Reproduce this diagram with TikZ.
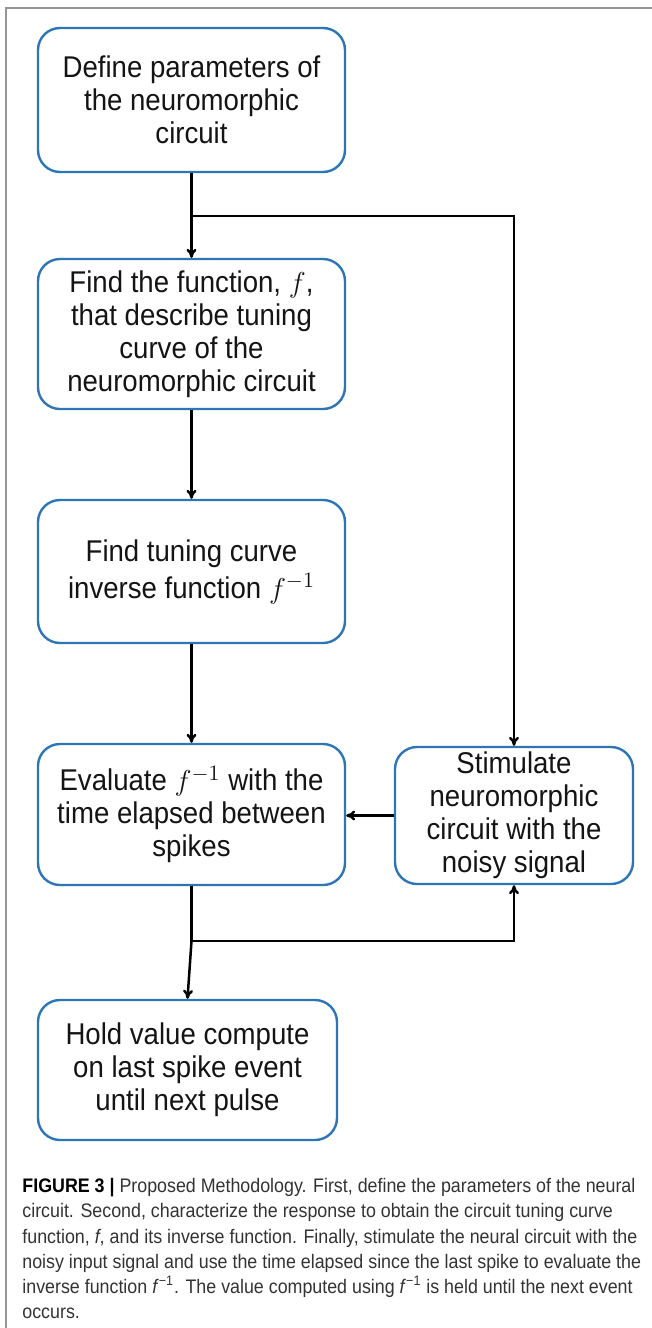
\documentclass[tikz,border=0pt]{standalone}
\usepackage{fontspec}
\setmainfont{Liberation Sans}
\newfontfamily\boxfont[FakeStretch=0.92]{Liberation Sans}
\newfontfamily\capfont[FakeStretch=0.91]{Liberation Sans}
\usetikzlibrary{arrows.meta}
\definecolor{boxblue}{RGB}{46,117,182}
\definecolor{framegray}{RGB}{150,150,150}
\begin{document}
\begin{tikzpicture}[x=0.5pt,y=-0.5pt,
  stepbox/.style={draw=boxblue, line width=1.2pt, rounded corners=11pt, align=center,
    inner sep=0pt, font=\boxfont\fontsize{15}{16.5}\selectfont, text=black!92},
  conn/.style={line width=1.25pt, draw=black},
  arr/.style={conn, -{To[length=4.5pt,width=5pt]}},
  captext/.style={anchor=base west, inner sep=0pt, font=\capfont\fontsize{9.8}{12.6}\selectfont, text=black!80}]
\useasboundingbox (0,0) rectangle (652,1328);
\draw[framegray, line width=0.75pt] (6,1328) -- (6,8) -- (652,8);

\node[stepbox, minimum width=153.5pt, minimum height=72pt] (b1) at (191.5,100)
  {Define parameters of\\the neuromorphic\\circuit};
\node[stepbox, minimum width=153.5pt, minimum height=75pt] (b2) at (191.5,334)
  {Find the function, $f$,\\that describe tuning\\curve of the\\neuromorphic circuit};
\node[stepbox, minimum width=153.5pt, minimum height=71.5pt] (b3) at (191.5,571.5)
  {Find tuning curve\\[2pt]inverse function $f^{-1}$};
\node[stepbox, minimum width=153.5pt, minimum height=70.5pt] (b4) at (191.5,814.5)
  {Evaluate $f^{-1}$ with the\\time elapsed between\\spikes};
\node[stepbox, minimum width=119pt, minimum height=68.5pt] (b5) at (514,815.5)
  {Stimulate\\neuromorphic\\circuit with the\\noisy signal};
\node[stepbox, minimum width=149.5pt, minimum height=70pt] (b6) at (187.5,1070)
  {Hold value compute\\on last spike event\\until next pulse};

\coordinate (j1) at (191.5,216);
\coordinate (j2) at (191.5,941);
\draw[conn] (b1.south) -- (j1);
\draw[arr] (j1) -- (b2.north);
\draw[arr] (j1) -| (b5.north);
\draw[arr] (b2.south) -- (b3.north);
\draw[arr] (b3.south) -- (b4.north);
\draw[arr] (b5.west) -- (b4.east |- b5.west);
\draw[conn] (b4.south) -- (j2);
\draw[arr] (j2) -| (b5.south);
\draw[arr] (j2) -- (b6.north);

\node[captext] (cap1) at (22,1192) {\textbf{\color{black}FIGURE 3 |} Proposed Methodology. First, define the parameters of the neural};
\node[captext] (cap2) at (22,1217) {circuit. Second, characterize the response to obtain the circuit tuning curve};
\node[captext] (cap3) at (22,1243) {function, \textit{f}, and its inverse function. Finally, stimulate the neural circuit with the};
\node[captext] (cap4) at (22,1268) {noisy input signal and use the time elapsed since the last spike to evaluate the};
\node[captext] (cap5) at (22,1293) {inverse function \textit{f}\textsuperscript{−1}. The value computed using \textit{f}\textsuperscript{−1} is held until the next event};
\node[captext] (cap6) at (22,1318) {occurs.};
\end{tikzpicture}
\end{document}
